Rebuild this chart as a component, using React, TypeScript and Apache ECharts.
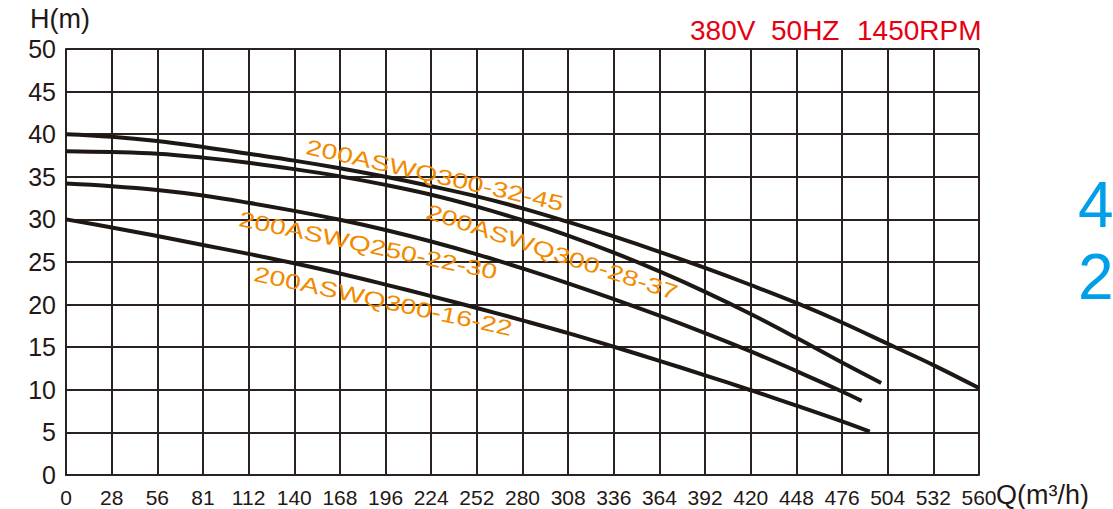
import React, { useEffect, useRef } from 'react';
import * as echarts from 'echarts';

const xTickLabels = ['0', '28', '56', '81', '112', '140', '168', '196', '224', '252', '280', '308', '336', '364', '392', '420', '448', '476', '504', '532', '560'];

const curveNames = ['200ASWQ300-32-45', '200ASWQ300-28-37', '200ASWQ250-22-30', '200ASWQ300-16-22'];

const q1 = [0, 28, 56, 84, 112, 140, 168, 196, 224, 252, 280, 308, 336, 364, 392, 420, 448, 476, 504, 532, 560];
const h1 = [40, 39.7, 39.2, 38.5, 37.7, 36.9, 36.0, 35.0, 33.9, 32.7, 31.3, 29.7, 28.0, 26.2, 24.3, 22.3, 20.2, 17.9, 15.4, 12.9, 10.2];

const q2 = [0, 28, 56, 84, 112, 140, 168, 196, 224, 252, 280, 308, 336, 364, 392, 420, 448, 476, 500];
const h2 = [38.0, 37.9, 37.7, 37.25, 36.65, 35.9, 35.05, 34.05, 32.9, 31.5, 29.9, 28.1, 26.1, 23.9, 21.5, 18.9, 16.1, 13.2, 10.8];

const q3 = [0, 28, 56, 84, 112, 140, 168, 196, 224, 252, 280, 308, 336, 364, 392, 420, 448, 476, 488];
const h3 = [34.2, 33.9, 33.45, 32.8, 31.95, 31.0, 29.95, 28.75, 27.4, 25.9, 24.25, 22.5, 20.65, 18.7, 16.65, 14.5, 12.2, 9.8, 8.7];

const q4 = [0, 28, 56, 84, 112, 140, 168, 196, 224, 252, 280, 308, 336, 364, 392, 420, 448, 476, 493];
const h4 = [30, 29.05, 28.05, 27.0, 25.95, 24.85, 23.65, 22.35, 21.0, 19.6, 18.15, 16.65, 15.05, 13.4, 11.7, 9.95, 8.15, 6.3, 5.1];

const headerTexts = ['380V', '50HZ', '1450RPM'];
const sideTexts = ['4', '2'];

const zip = (q: number[], h: number[]) => q.map((v, i) => [v, h[i]]);

export default function App() {
  const ref = useRef<HTMLDivElement>(null);

  useEffect(() => {
    if (!ref.current) return;
    const chart = echarts.init(ref.current, null, { renderer: 'svg' });
    const lineColor = '#1e1815';
    const gridColor = '#2a2220';
    const orange = '#F28A00';
    const font = 'Liberation Sans, Arial, sans-serif';
    const deg = Math.PI / 180;

    const labelPos = [
      { x: 305, y: 153, a: 12.6 },
      { x: 425, y: 217, a: 18.3 },
      { x: 238, y: 225, a: 11.8 },
      { x: 253, y: 280, a: 12.1 },
    ];
    const headerX = [690, 771, 857];

    const series = [zip(q1, h1), zip(q2, h2), zip(q3, h3), zip(q4, h4)].map((d, i) => ({
      type: 'line',
      name: curveNames[i],
      data: d,
      smooth: 0.4,
      symbol: 'none',
      lineStyle: { color: lineColor, width: 4 },
      z: 5,
    }));

    const graphic: any[] = [
      {
        type: 'text',
        x: 30,
        y: 32,
        style: { text: 'H(m)', font: `27px ${font}`, fill: '#231815', align: 'left', verticalAlign: 'bottom' },
      },
      {
        type: 'text',
        x: 996,
        y: 508,
        style: { text: 'Q(m³/h)', font: `27px ${font}`, fill: '#231815', align: 'left', verticalAlign: 'bottom' },
      },
      ...headerTexts.map((t, i) => ({
        type: 'text',
        x: headerX[i],
        y: 44,
        style: { text: t, font: `28px ${font}`, fill: '#E60012', align: 'left', verticalAlign: 'bottom' },
      })),
      ...sideTexts.map((t, i) => ({
        type: 'text',
        x: 1078,
        y: 237 + i * 72,
        style: { text: t, font: `64px ${font}`, fill: '#00A0E9', align: 'left', verticalAlign: 'bottom' },
      })),
      ...curveNames.map((t, i) => ({
        type: 'text',
        x: labelPos[i].x,
        y: labelPos[i].y,
        rotation: -labelPos[i].a * deg,
        scaleX: 1.32,
        z: 10,
        style: { text: t, x: 0, y: 4, font: `21.5px ${font}`, fill: orange, align: 'left', verticalAlign: 'bottom' },
      })),
    ];

    chart.setOption({
      animation: false,
      grid: { left: 66, right: 134, top: 49, bottom: 34, containLabel: false },
      xAxis: {
        type: 'value',
        min: 0,
        max: 560,
        interval: 28,
        axisLine: { show: true, lineStyle: { color: gridColor, width: 2 } },
        axisTick: { show: false },
        splitLine: { show: true, lineStyle: { color: gridColor, width: 2 } },
        axisLabel: {
          color: '#231815',
          fontSize: 21,
          fontFamily: font,
          margin: 12,
          formatter: (v: number) => xTickLabels[Math.round(v / 28)] ?? '',
        },
      },
      yAxis: {
        type: 'value',
        min: 0,
        max: 50,
        interval: 5,
        axisLine: { show: true, lineStyle: { color: gridColor, width: 2 } },
        axisTick: { show: false },
        splitLine: { show: true, lineStyle: { color: gridColor, width: 2 } },
        axisLabel: { color: '#231815', fontSize: 25, fontFamily: font, margin: 10 },
      },
      series,
      graphic,
    });

    return () => chart.dispose();
  }, []);

  return <div ref={ref} style={{ position: 'fixed', left: 0, top: 0, width: 1113, height: 509, background: '#fff' }} />;
}
